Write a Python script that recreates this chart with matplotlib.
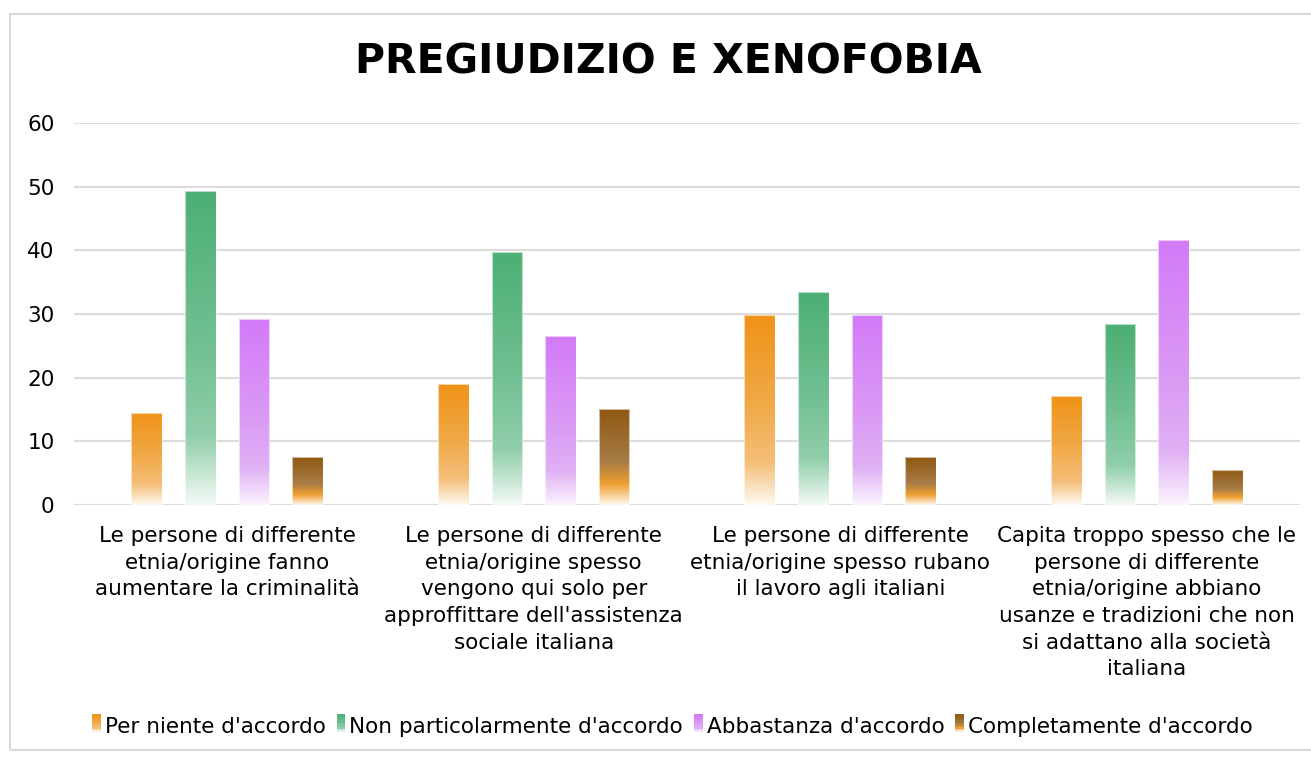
import matplotlib.pyplot as plt
import numpy as np
from matplotlib.colors import LinearSegmentedColormap
from matplotlib.patches import Rectangle
from matplotlib.legend_handler import HandlerBase

categories = [
    "Le persone di differente\netnia/origine fanno\naumentare la criminalità",
    "Le persone di differente\netnia/origine spesso\nvengono qui solo per\napproffittare dell'assistenza\nsociale italiana",
    "Le persone di differente\netnia/origine spesso rubano\nil lavoro agli italiani",
    "Capita troppo spesso che le\npersone di differente\netnia/origine abbiano\nusanze e tradizioni che non\nsi adattano alla società\nitaliana",
]
series = ["Per niente d'accordo", "Non particolarmente d'accordo",
          "Abbastanza d'accordo", "Completamente d'accordo"]
per_niente = [14.5, 19.0, 29.9, 17.1]
non_partic = [49.3, 39.7, 33.4, 28.4]
abbastanza = [29.2, 26.6, 29.9, 41.7]
completamente = [7.5, 15.1, 7.5, 5.5]
values = [per_niente, non_partic, abbastanza, completamente]

# gradient stops (0 = top of bar, 1 = bottom)
gradients = [
    [(0, '#EF9318'), (0.45, '#F0A845'), (0.78, '#F4BE78'), (1, '#FFF9F2')],
    [(0, '#4CAF73'), (0.5, '#72C093'), (0.78, '#90CEA9'), (1, '#F3FAF6')],
    [(0, '#D27AF8'), (0.5, '#DA98F4'), (0.8, '#E0B0F4'), (1, '#FBF4FE')],
    [(0, '#8E5811'), (0.55, '#A67C46'), (0.78, '#EE9E30'), (1, '#FFF8EE')],
]
cmaps = [LinearSegmentedColormap.from_list('g%d' % i, g) for i, g in enumerate(gradients)]

fig = plt.figure(figsize=(13.11, 7.57), dpi=100)
ax = fig.add_axes([0.0564, 0.3329, 0.9352, 0.5046])

x = np.arange(len(categories))
width = 0.1
offsets = [-0.2625, -0.0875, 0.0875, 0.2625]
grad = np.linspace(0, 1, 256).reshape(-1, 1)

for i, vals in enumerate(values):
    bars = ax.bar(x + offsets[i], vals, width, color='none', edgecolor='none', zorder=3)
    for b in bars:
        x0, h = b.get_x(), b.get_height()
        im = ax.imshow(grad, cmap=cmaps[i], extent=[x0, x0 + width, 0, h],
                       aspect='auto', origin='upper', interpolation='bilinear', zorder=3)
        im.set_clip_path(b)
        ax.add_patch(Rectangle((x0, 0), width, h, fill=False,
                               edgecolor='white', linewidth=0.8, alpha=0.6, zorder=4))

ax.set_xlim(-0.5, 3.5)
ax.set_ylim(0, 60)
ax.set_yticks(range(0, 61, 10))
ax.set_xticks(x)
ax.set_xticklabels(categories, fontsize=15.5, linespacing=1.42)
ax.tick_params(axis='both', length=0, labelsize=15.5)
ax.tick_params(axis='x', pad=15)
ax.tick_params(axis='y', pad=14)
ax.grid(axis='y', color='#DCDCDC', linewidth=1.5, zorder=0)
ax.set_axisbelow(True)
for s in ax.spines.values():
    s.set_visible(False)

fig.text(0.51, 0.918, 'PREGIUDIZIO E XENOFOBIA', ha='center', va='center',
         fontsize=29.5, fontweight='bold')


class GradHandler(HandlerBase):
    def __init__(self, cmap):
        super().__init__()
        self.cmap = cmap

    def create_artists(self, legend, orig, xd, yd, w, h, fs, trans):
        n = 12
        arts = []
        for k in range(n):
            c = self.cmap(1 - (k + 0.5) / n)
            arts.append(Rectangle((xd, yd + h * k / n), w, h / n + 0.3,
                                  facecolor=c, edgecolor='none', transform=trans))
        return arts


handles = [Rectangle((0, 0), 1, 1) for _ in series]
fig.legend(handles, series, loc='center', bbox_to_anchor=(0.513, 0.04), ncol=4,
           frameon=False, fontsize=15.5, handlelength=0.4, handleheight=0.85,
           handletextpad=0.2, columnspacing=0.5,
           handler_map={h: GradHandler(cmaps[i]) for i, h in enumerate(handles)})

# chart frame
fig.patches.append(Rectangle((10 / 1311, 7 / 757), 1.0, 1 - 21 / 757, transform=fig.transFigure,
                             fill=False, edgecolor='#D9D9D9', linewidth=1.5))

fig.savefig('out.png', dpi=100)
